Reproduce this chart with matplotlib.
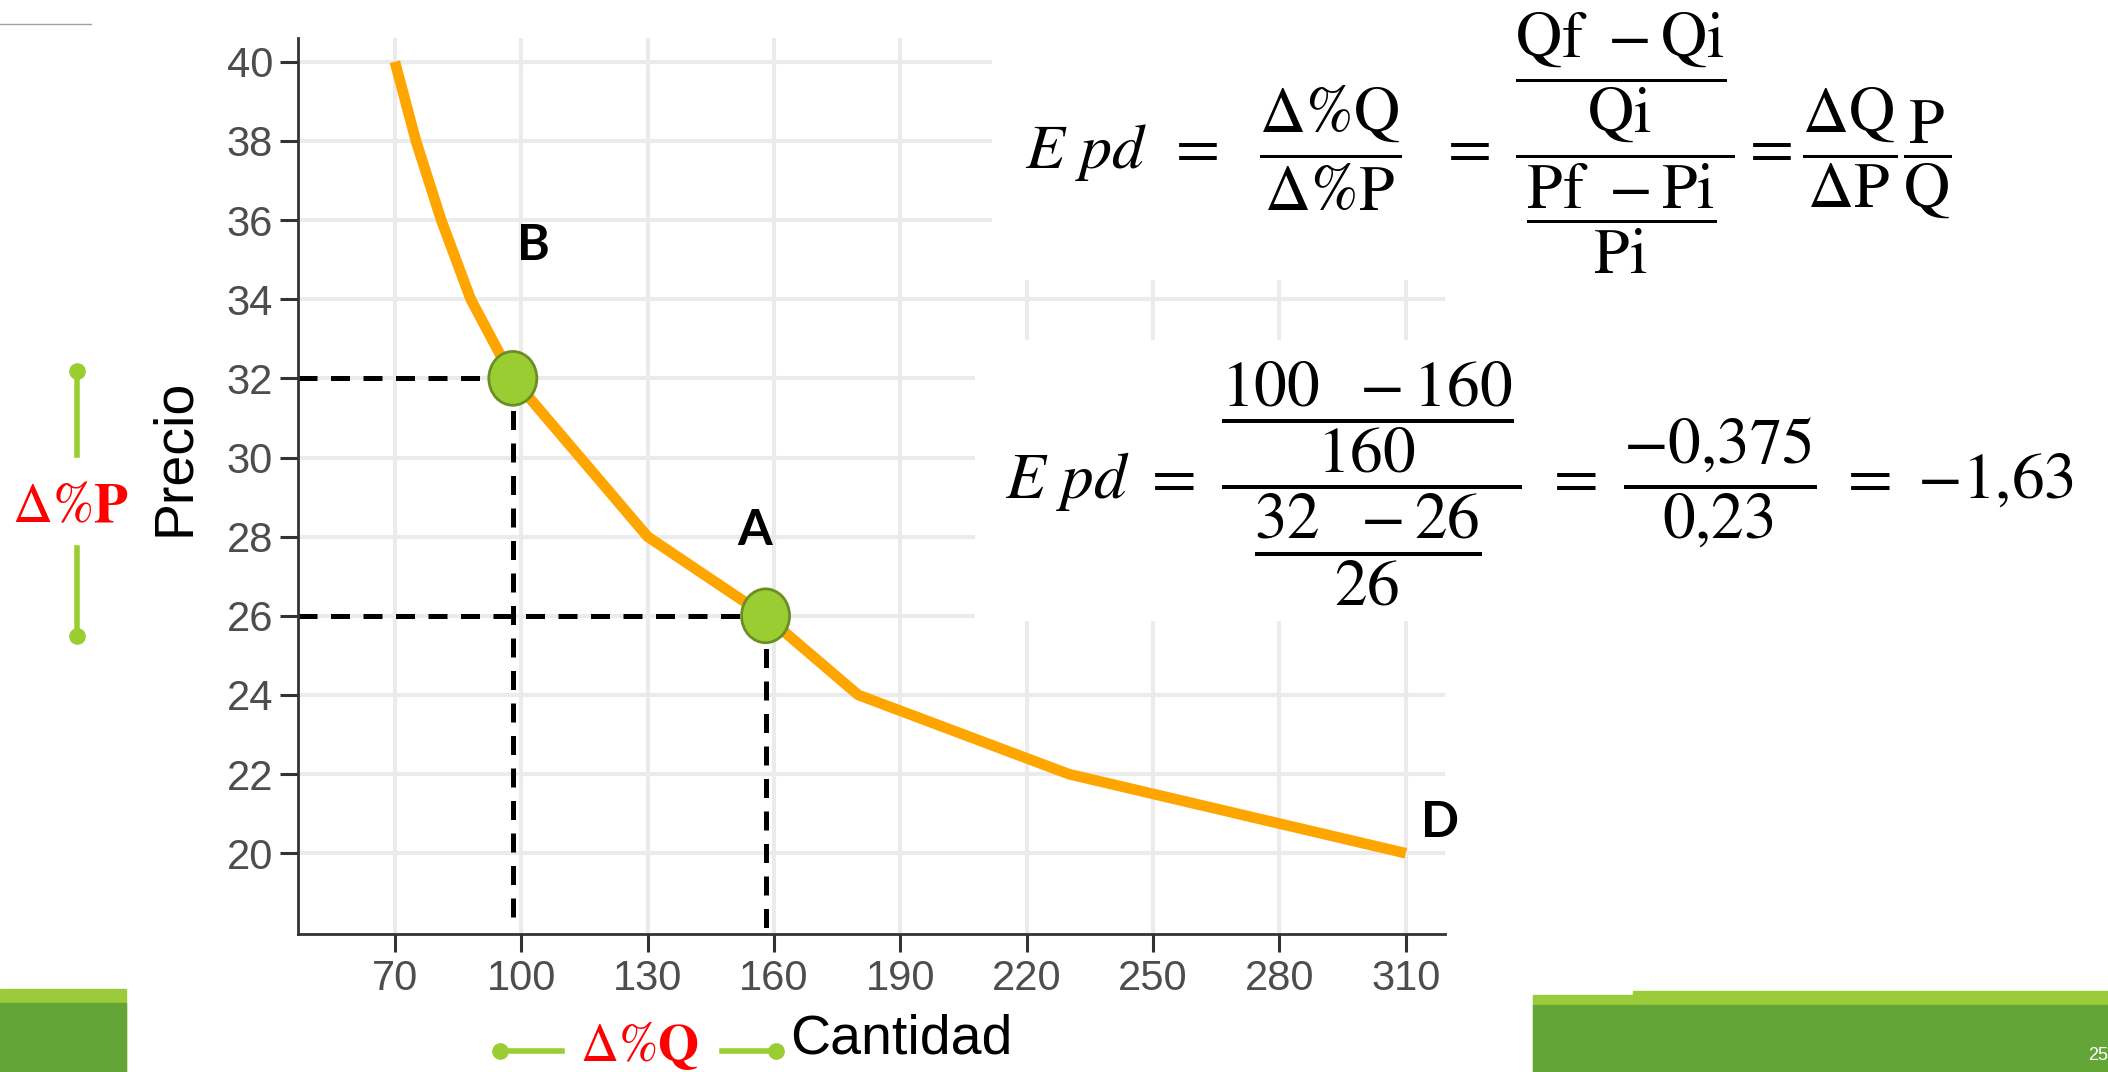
import matplotlib.pyplot as plt
from matplotlib.patches import Rectangle, Ellipse
from matplotlib.lines import Line2D

# curva de demanda
cantidad = [70, 75, 81, 88, 98, 130, 158, 180, 230, 310]
precio = [40, 38, 36, 34, 32, 28, 26, 24, 22, 20]

# puntos B y A
pts_q = [98, 158]
pts_p = [32, 26]
pts_lbl = ["B", "A"]

xticks = list(range(70, 311, 30))
yticks = list(range(20, 41, 2))

W, H = 2108, 1072
plt.rcParams['mathtext.fontset'] = 'stix'
plt.rcParams['font.family'] = ['Liberation Sans', 'DejaVu Sans']

fig = plt.figure(figsize=(W / 100, H / 100), dpi=100)
ax = fig.add_axes([298 / W, 1 - 934 / H, (1445 - 298) / W, (934 - 38) / H])

def fx(x):
    return x / W

def fy(y):
    return 1 - y / H

ax.set_xlim(47, 319.3)
ax.set_ylim(17.96, 40.6)
ax.set_xticks(xticks)
ax.set_yticks(yticks)
ax.grid(color='#EBEBEB', lw=2.9)
ax.set_axisbelow(True)
for s in ['top', 'right']:
    ax.spines[s].set_visible(False)
for s in ['left', 'bottom']:
    ax.spines[s].set_color('#333333')
    ax.spines[s].set_linewidth(2)
ax.tick_params(axis='both', colors='#333333', width=2.2, length=13,
               labelsize=30, labelcolor='#4D4D4D', pad=5)

# recuadros blancos tras las fórmulas
ax.add_patch(Rectangle((fx(992), fy(280)), 1 - fx(992), 280 / H, transform=fig.transFigure,
                       facecolor='white', edgecolor='none', zorder=1, clip_on=False))
ax.add_patch(Rectangle((fx(975), fy(621)), 1 - fx(975), (621 - 340) / H, transform=fig.transFigure,
                       facecolor='white', edgecolor='none', zorder=1, clip_on=False))

ax.plot(cantidad, precio, color='#FFA500', lw=7.7, zorder=3, solid_capstyle='butt')

# líneas punteadas
qb, pb = pts_q[0], pts_p[0]
qa, pa = pts_q[1], pts_p[1]
ymin = ax.get_ylim()[0]
xmin = ax.get_xlim()[0]
dash = dict(color='black', lw=3.6, dashes=(3.8, 2.7), zorder=2)
ax.plot([xmin, qb], [pb, pb], **dash)
ax.plot([qb, qb], [pb, ymin + 0.3], **dash)
ax.plot([xmin, qa], [pa, pa], **dash)
ax.plot([qa, qa], [pa, ymin], **dash)

for q, p in zip(pts_q, pts_p):
    ax.add_patch(Ellipse((q, p), 11.4, 1.36, facecolor='#9ACD32', edgecolor='#6B8E23',
                         lw=2, zorder=4))

ax.text(103, 35.35, "B", fontsize=36, fontweight='bold', family='Lato', ha='center', va='center')
ax.text(155.5, 28.15, "A", fontsize=36, fontweight='bold', family='Lato', ha='center', va='center')
ax.text(318.2, 20.78, "D", fontsize=36, fontweight='bold', family='Lato', ha='center', va='center')

# etiqueta eje y
fig.text(fx(175), fy(457), "Precio", rotation=90, fontsize=40, ha='center', va='center')

# fórmulas
eq1 = (r"$E\ pd\ \,=\ \ \dfrac{\Delta\%\mathrm{Q}}{\Delta\%\mathrm{P}}\ \ =\ "
       r"\dfrac{\dfrac{\mathrm{Qf}\ -\mathrm{Qi}}{\mathrm{Qi}}}{\dfrac{\mathrm{Pf}\ -\mathrm{Pi}}{\mathrm{Pi}}}"
       r" = \dfrac{\Delta\mathrm{Q}}{\Delta\mathrm{P}}\dfrac{\mathrm{P}}{\mathrm{Q}}$")
fig.text(fx(1488), fy(143), eq1, fontsize=46, ha='center', va='center')

eq2 = (r"$E\ pd\ =\ \dfrac{\dfrac{100\ \ -160}{160}}{\dfrac{32\ \ -26}{26}}"
       r"\ =\ \dfrac{-0{,}375}{0{,}23}\ =\ {-1{,}63}$")
fig.text(fx(1540), fy(484), eq2, fontsize=47, ha='center', va='center')

# marcas laterales de variación
verde = '#9ACD32'
fig.add_artist(Line2D([fx(77), fx(77)], [fy(371), fy(455)], color=verde, lw=4))
fig.add_artist(Line2D([fx(77), fx(77)], [fy(548), fy(636)], color=verde, lw=4))
fig.add_artist(Line2D([fx(77)], [fy(371)], marker='o', ms=11, color=verde))
fig.add_artist(Line2D([fx(77)], [fy(636)], marker='o', ms=11, color=verde))
fig.text(fx(70), fy(508), r"$\Delta\%\mathbf{P}$", color='red', fontsize=40, ha='center', va='center')

fig.add_artist(Line2D([fx(500), fx(562)], [fy(1051), fy(1051)], color=verde, lw=4))
fig.add_artist(Line2D([fx(500)], [fy(1051)], marker='o', ms=11, color=verde))
fig.add_artist(Line2D([fx(722), fx(776)], [fy(1051), fy(1051)], color=verde, lw=4))
fig.add_artist(Line2D([fx(776)], [fy(1051)], marker='o', ms=11, color=verde))
fig.text(fx(580), fy(1046), r"$\Delta\%\mathbf{Q}$", color='red', fontsize=38, ha='left', va='center')
fig.text(fx(790), fy(1040), "Cantidad", fontsize=40, ha='left', va='center')

# elementos de la diapositiva
fig.add_artist(Line2D([0, fx(91)], [fy(24), fy(24)], color='#A0A0A0', lw=1))
claro, oscuro = '#9BCB3B', '#63A537'
fig.add_artist(Rectangle((0, 0), fx(126), 1 - (989 / H), transform=fig.transFigure, color=claro))
fig.add_artist(Rectangle((0, 0), fx(126), 1 - (1003 / H), transform=fig.transFigure, color=oscuro))
fig.add_artist(Rectangle((fx(1533), 0), 1 - fx(1533), 1 - (995 / H), transform=fig.transFigure, color=claro))
fig.add_artist(Rectangle((fx(1633), 0), 1 - fx(1633), 1 - (991 / H), transform=fig.transFigure, color=claro))
fig.add_artist(Rectangle((fx(1533), 0), 1 - fx(1533), 1 - (1005 / H), transform=fig.transFigure, color=oscuro))
fig.text(fx(2088), fy(1055), "25", color='white', fontsize=13, ha='left', va='center')

fig.savefig("out.png", dpi=100)
